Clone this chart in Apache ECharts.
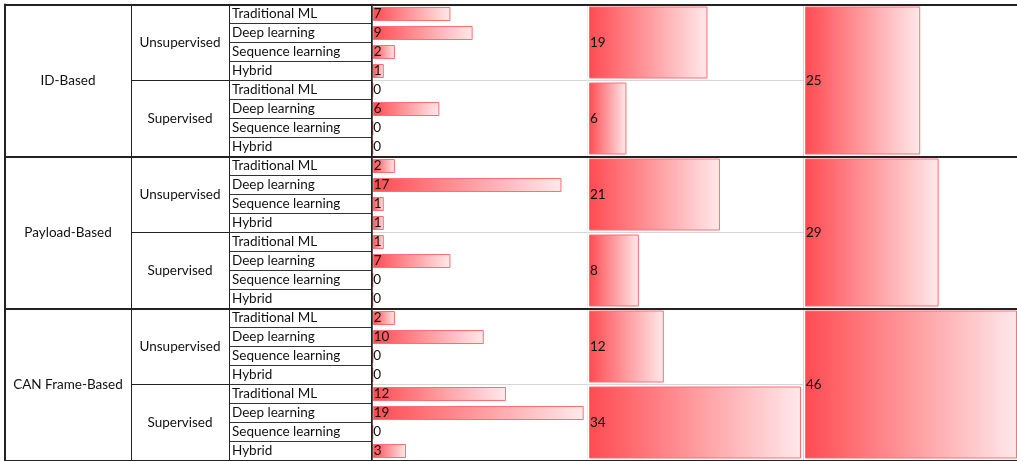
<!DOCTYPE html>
<html><head><meta charset="utf-8">
<script src="https://cdn.jsdelivr.net/npm/echarts@6/dist/echarts.min.js"></script>
<style>html,body{margin:0;padding:0;background:#fff}#c{width:1017px;height:461px}</style>
</head><body><div id="c"></div>
<script>
// ---- data ----
const groups = ['ID-Based', 'Payload-Based', 'CAN Frame-Based'];
const subgroups = ['Unsupervised', 'Supervised'];
const methods = ['Traditional ML', 'Deep learning', 'Sequence learning', 'Hybrid'];
const methodCounts = [7, 9, 2, 1, 0, 6, 0, 0,
                      2, 17, 1, 1, 1, 7, 0, 0,
                      2, 10, 0, 0, 12, 19, 0, 3];
const subgroupTotals = [19, 6, 21, 8, 12, 34];
const groupTotals = [25, 29, 46];

// unique category keys (label shown is the part before '|')
const subCats = groups.flatMap(g => subgroups.map(s => s + '|' + g));
const methodCats = subCats.flatMap(sc => methods.map(m => m + '|' + sc));
const strip = v => String(v).split('|')[0];

const FONT = 'Lato';
const FS = 13.5;
const TXT = '#111';
const TOP = 4.5, H = 456;
const barColor = {
  type: 'linear', x: 0, y: 0, x2: 1, y2: 0,
  colorStops: [{ offset: 0, color: '#FF4B52' }, { offset: 1, color: '#FFE9EA' }]
};
const barLabel = {
  show: true, position: [1, '50%'], align: 'left', verticalAlign: 'middle',
  fontFamily: FONT, fontSize: FS, color: TXT
};
const hiddenX = (i, max) => ({ gridIndex: i, type: 'value', show: false, min: 0, max: max });
const noLine = { show: false }, noTick = { show: false }, noLab = { show: false };

const chart = echarts.init(document.getElementById('c'), null, { renderer: 'canvas' });
chart.setOption({
  animation: false,
  backgroundColor: '#fff',
  grid: [
    { left: 5, top: TOP, width: 1012, height: H },      // 0 frame
    { left: 5, top: TOP, width: 126, height: H },       // 1 group labels
    { left: 131, top: TOP, width: 98, height: H },      // 2 subgroup labels
    { left: 229, top: TOP, width: 142.5, height: H },   // 3 method labels
    { left: 371.5, top: TOP, width: 432, height: H },   // 4 light grid lines
    { left: 372.7, top: TOP, width: 211, height: H },   // 5 method bars
    { left: 589, top: TOP, width: 212, height: H },     // 6 subgroup bars
    { left: 805, top: TOP, width: 213, height: H }      // 7 group bars
  ],
  xAxis: [
    hiddenX(0, 1), hiddenX(1, 1), hiddenX(2, 1), hiddenX(3, 1),
    { gridIndex: 4, type: 'value', min: 0, max: 2, interval: 1,
      axisLine: noLine, axisTick: noTick, axisLabel: noLab,
      splitLine: { show: true, lineStyle: { color: ['#222', '#ececec', '#d4d4d4'], width: 1 } } },
    hiddenX(5, 19), hiddenX(6, 34), hiddenX(7, 46)
  ],
  yAxis: [
    { gridIndex: 0, type: 'category', data: groups, inverse: true, z: 10,
      axisLine: { show: true, lineStyle: { color: '#222', width: 2 } },
      axisTick: noTick, axisLabel: noLab,
      splitLine: { show: true, interval: 0, lineStyle: { color: '#222', width: 2 } } },
    { gridIndex: 1, type: 'category', data: groups, inverse: true,
      axisLine: noLine, axisTick: noTick,
      axisLabel: { inside: true, interval: 0, align: 'center', margin: 63,
                   fontFamily: FONT, fontSize: FS, color: TXT },
      splitLine: { show: false } },
    { gridIndex: 2, type: 'category', data: subCats, inverse: true, z: 3,
      axisLine: { show: true, lineStyle: { color: '#222', width: 1 } },
      axisTick: noTick,
      axisLabel: { inside: true, interval: 0, align: 'center', margin: 49,
                   fontFamily: FONT, fontSize: FS, color: TXT, formatter: strip },
      splitLine: { show: true, interval: 0, lineStyle: { color: '#222', width: 1 } } },
    { gridIndex: 3, type: 'category', data: methodCats, inverse: true, z: 3,
      axisLine: { show: true, lineStyle: { color: '#222', width: 1 } },
      axisTick: noTick,
      axisLabel: { inside: true, interval: 0, align: 'left', margin: 3,
                   fontFamily: FONT, fontSize: FS, color: TXT, formatter: strip },
      splitLine: { show: true, interval: 0, lineStyle: { color: '#333', width: 1 } } },
    { gridIndex: 3, type: 'category', data: methodCats, inverse: true, position: 'right', z: 3,
      axisLine: { show: true, onZero: false, lineStyle: { color: '#222', width: 1.5 } },
      axisTick: noTick, axisLabel: noLab, splitLine: { show: false } },
    { gridIndex: 4, type: 'category', data: subCats, inverse: true,
      axisLine: noLine, axisTick: noTick, axisLabel: noLab,
      splitLine: { show: true, interval: 0, lineStyle: { color: '#d6d6d6', width: 1 } } },
    { gridIndex: 5, type: 'category', data: methodCats, inverse: true, show: false },
    { gridIndex: 6, type: 'category', data: subCats, inverse: true, show: false },
    { gridIndex: 7, type: 'category', data: groups, inverse: true, show: false }
  ],
  series: [
    { type: 'bar', xAxisIndex: 5, yAxisIndex: 6, data: methodCounts, barWidth: 14, silent: true,
      itemStyle: { color: barColor, borderColor: '#FF6E74', borderWidth: 1 }, label: barLabel },
    { type: 'bar', xAxisIndex: 6, yAxisIndex: 7, data: subgroupTotals, barWidth: 72, silent: true,
      itemStyle: { color: barColor, borderColor: '#FF6E74', borderWidth: 1 }, label: barLabel },
    { type: 'bar', xAxisIndex: 7, yAxisIndex: 8, data: groupTotals, barWidth: 148, silent: true,
      itemStyle: { color: barColor, borderColor: '#FF6E74', borderWidth: 1 }, label: barLabel }
  ]
});
</script></body></html>
